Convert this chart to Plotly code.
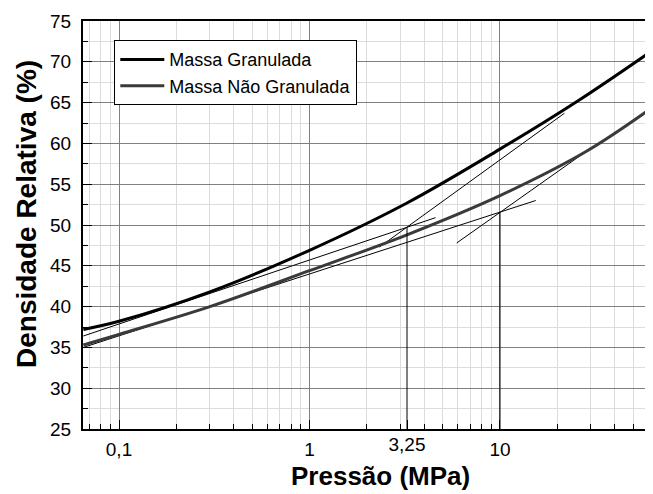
import plotly.graph_objects as go

# ---- data ----
pressure_gran = [0.065, 0.1, 0.3, 1, 3.25, 10, 25.6, 59.7]
density_gran = [37.2, 38.2, 41.8, 46.9, 52.7, 59.3, 65.2, 71.0]

pressure_ngran = [0.065, 0.1, 0.3, 1, 3.25, 10, 28.3, 62.2]
density_ngran = [35.3, 36.6, 40.0, 44.4, 48.8, 53.6, 59.0, 64.3]

tan_gran_low_x = [0.065, 4.59]
tan_gran_low_y = [36.4, 50.9]
tan_gran_high_x = [2.33, 21.8]
tan_gran_high_y = [47.3, 63.7]
tan_ngran_low_x = [0.065, 15.4]
tan_ngran_low_y = [35.0, 53.0]
tan_ngran_high_x = [5.93, 28.3]
tan_ngran_high_y = [47.8, 59.0]

vline_gran_x = [3.25, 3.25]
vline_gran_y = [25, 49.75]
vline_ngran_x = [10, 10]
vline_ngran_y = [25, 51.55]

major_x_ticks = [0.1, 1, 10]
major_x_text = ["0,1", "1", "10"]
extra_x_ticks = [3.25]
extra_x_text = ["3,25"]
minor_x_ticks = [0.07, 0.08, 0.09, 0.2, 0.3, 0.4, 0.5, 0.6, 0.7, 0.8, 0.9,
                 2, 3, 4, 5, 6, 7, 8, 9, 20, 30, 40, 50, 60]

FONT = "Liberation Sans, Arial, sans-serif"

fig = go.Figure()

thin = dict(color="black", width=1)
for xs, ys in [(tan_gran_low_x, tan_gran_low_y), (tan_gran_high_x, tan_gran_high_y),
               (tan_ngran_low_x, tan_ngran_low_y), (tan_ngran_high_x, tan_ngran_high_y),
               (vline_ngran_x, vline_ngran_y)]:
    fig.add_trace(go.Scatter(x=xs, y=ys, mode="lines", line=thin,
                             showlegend=False, hoverinfo="skip"))
fig.add_trace(go.Scatter(x=vline_gran_x, y=vline_gran_y, mode="lines", line=thin,
                         xaxis="x2", showlegend=False, hoverinfo="skip"))

fig.add_trace(go.Scatter(x=pressure_gran, y=density_gran, mode="lines",
                         name="Massa Granulada",
                         line=dict(color="black", width=3, shape="spline", smoothing=1.0)))
fig.add_trace(go.Scatter(x=pressure_ngran, y=density_ngran, mode="lines",
                         name="Massa Não Granulada",
                         line=dict(color="#3a3a3a", width=3, shape="spline", smoothing=1.0)))

xr = [-1.189, 1.798]
# the page body adds an 8px offset, so the figure is 8px smaller than the window
fig.update_layout(
    width=645, height=486,
    margin=dict(l=75, r=1, t=13, b=65),
    paper_bgcolor="white", plot_bgcolor="white",
    font=dict(family=FONT, color="black", size=19),
    xaxis=dict(
        type="log", range=xr,
        tickmode="array", tickvals=major_x_ticks, ticktext=major_x_text,
        ticks="inside", ticklen=9, tickwidth=1, tickcolor="black",
        showgrid=True, gridcolor="#808080", gridwidth=1,
        minor=dict(tickmode="array", tickvals=minor_x_ticks, ticks="inside",
                   ticklen=5, tickcolor="black", showgrid=True,
                   gridcolor="#dcdcdc", gridwidth=1),
        showline=True, linecolor="black", linewidth=2, mirror=True,
        zeroline=False, ticklabelstandoff=2,
        tickfont=dict(size=19, family=FONT),
    ),
    xaxis2=dict(
        type="log", range=xr, overlaying="x", anchor="y", side="bottom",
        tickmode="array", tickvals=extra_x_ticks, ticktext=extra_x_text,
        ticks="inside", ticklen=9, tickcolor="black",
        showgrid=False, showline=False, zeroline=False, ticklabelstandoff=2,
        tickfont=dict(size=19, family=FONT),
    ),
    yaxis=dict(
        range=[25, 75], tickmode="linear", tick0=25, dtick=5,
        ticks="inside", ticklen=9, tickwidth=1, tickcolor="black",
        showgrid=True, gridcolor="#808080", gridwidth=1,
        minor=dict(dtick=2.5, ticks="inside", ticklen=5, tickcolor="black",
                   showgrid=True, gridcolor="#dcdcdc", gridwidth=1),
        showline=True, linecolor="black", linewidth=2, mirror=False,
        zeroline=False, ticklabelstandoff=6,
        tickfont=dict(size=19, family=FONT),
    ),
    legend=dict(
        x=0.055, y=0.953, xanchor="left", yanchor="top",
        bgcolor="white", bordercolor="black", borderwidth=1,
        font=dict(size=18, family=FONT), tracegroupgap=0, itemwidth=44,
    ),
    showlegend=True,
)

fig.add_annotation(text="<b>Pressão (MPa)</b>", xref="paper", yref="paper",
                   x=0.522, y=-0.0735, xanchor="center", yanchor="top",
                   showarrow=False, font=dict(size=26, family=FONT))
fig.add_annotation(text="<b>Densidade Relativa (%)</b>", xref="paper", yref="paper",
                   x=-0.0984, y=0.527, xanchor="center", yanchor="middle",
                   textangle=-90, showarrow=False, font=dict(size=28, family=FONT))

fig.write_html("out.html")
